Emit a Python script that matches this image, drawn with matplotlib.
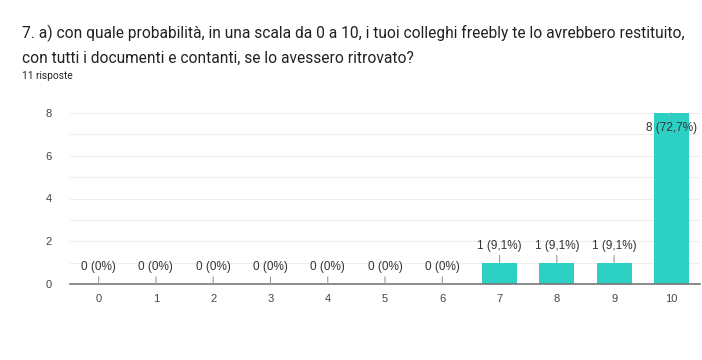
import matplotlib
matplotlib.use("Agg")
import matplotlib.pyplot as plt

categories = ["0", "1", "2", "3", "4", "5", "6", "7", "8", "9", "10"]
values = [0, 0, 0, 0, 0, 0, 0, 1, 1, 1, 8]
labels = ["0 (0%)"] * 7 + ["1 (9,1%)", "1 (9,1%)", "1 (9,1%)", "8 (72,7%)"]
yticks = [0, 2, 4, 6, 8]

title = "7. a) con quale probabilità, in una scala da 0 a 10, i tuoi colleghi freebly te lo avrebbero restituito,\ncon tutti i documenti e contanti, se lo avessero ritrovato?"
subtitle = "11 risposte"

plt.rcParams['font.family'] = ['Roboto', 'DejaVu Sans']
chart_font = ['Liberation Sans', 'DejaVu Sans']

fig = plt.figure(figsize=(7.02, 3.6), dpi=100)
ax = fig.add_axes([70/702, 1-284/360, 630/702, 171/360])

x = list(range(len(categories)))
ax.bar(x, values, width=0.61, color="#2dd1c3", zorder=2)

ax.set_xlim(-0.5, len(categories) - 0.5)
ax.set_ylim(0, 8)
ax.set_yticks(yticks)
ax.set_yticks(range(1, 9), minor=True)
ax.set_xticks(x)
ax.set_xticklabels(categories, fontfamily=chart_font)
ax.set_yticklabels([str(t) for t in yticks], fontfamily=chart_font)
ax.grid(axis='y', which='both', color="#eeeeee", lw=0.8, zorder=0)
for s in ['top', 'right', 'left']:
    ax.spines[s].set_visible(False)
ax.spines['bottom'].set_color("#777777")
ax.spines['bottom'].set_linewidth(1.2)
ax.spines['bottom'].set_zorder(3)
ax.tick_params(axis='both', which='both', length=0, labelsize=8, colors="#444444")
ax.tick_params(axis='x', pad=7)
ax.tick_params(axis='y', pad=13)

for xi, v, lab in zip(x, values, labels):
    off = -11 if v >= 8 else 12
    ax.annotate(lab, xy=(xi, v), xytext=(0, off), textcoords='offset points',
                ha='center', va='center', fontsize=8.5, color="#333333",
                fontfamily=chart_font,
                arrowprops=dict(arrowstyle='-', color="#999999", lw=0.8,
                                shrinkA=0.5, shrinkB=0), zorder=4)

fig.text(22/702, 1-33/360, title.split("\n")[0], fontsize=11.2, color="#202124", va='center', ha='left')
fig.text(22/702, 1-58/360, title.split("\n")[1], fontsize=11.2, color="#202124", va='center', ha='left')
fig.text(22/702, 1-76/360, subtitle, fontsize=7.3, color="#202124", va='center', ha='left')

fig.savefig("out.png", dpi=100, facecolor="white")
